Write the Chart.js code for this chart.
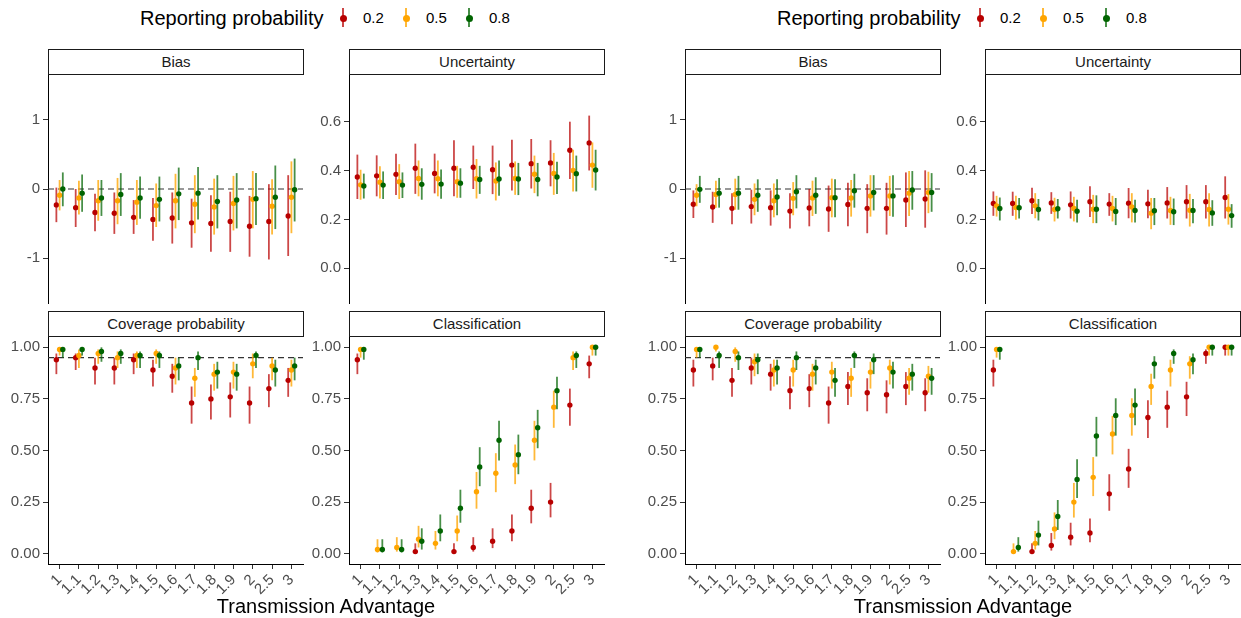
<!DOCTYPE html>
<html>
<head>
<meta charset="utf-8">
<script src="https://cdn.jsdelivr.net/npm/chart.js@4.4.1/dist/chart.umd.min.js"></script>
<style>
  body { margin: 0; background: #fff; overflow: hidden; font-family: "Liberation Sans", Arial, sans-serif; }
  #wrap { position: relative; width: 1241px; height: 618px; background: #fff; }
  canvas { position: absolute; }
  .strip { position: absolute; box-sizing: border-box; height: 26px; border: 1px solid #1a1a1a; background: #fff;
           font-size: 15px; line-height: 24px; text-align: center; color: #1a1a1a; }
  .txt { position: absolute; white-space: nowrap; color: #000; }
  .key { position: absolute; width: 2px; height: 19px; }
  .key i { position: absolute; left: -2.5px; top: 6.5px; width: 7px; height: 7px; border-radius: 50%; }
</style>
</head>
<body>
<div id="wrap"></div>
<script>
// Categories and legend levels
const categories = ['1', '1.1', '1.2', '1.3', '1.4', '1.5', '1.6', '1.7', '1.8', '1.9', '2', '2.5', '3'];
const reportingProb = ['0.2', '0.5', '0.8'];

// Y tick values
const biasTicks = [-1, 0, 1];
const uncertaintyTicks = [0, 0.2, 0.4, 0.6];
const probTicks = [0, 0.25, 0.5, 0.75, 1];

// ---- Left plot: Bias ----
const leftBias02   = [-0.23, -0.27, -0.34, -0.35, -0.41, -0.44, -0.42, -0.49, -0.50, -0.47, -0.54, -0.47, -0.39];
const leftBias02Lo = [-0.48, -0.55, -0.61, -0.65, -0.65, -0.75, -0.79, -0.85, -0.91, -0.91, -0.98, -1.02, -0.97];
const leftBias02Hi = [0.02, 0.00, -0.07, -0.05, -0.16, -0.13, -0.05, -0.14, -0.09, -0.04, -0.10, 0.07, 0.20];
const leftBias05   = [-0.09, -0.13, -0.17, -0.17, -0.19, -0.24, -0.17, -0.22, -0.26, -0.21, -0.15, -0.25, -0.12];
const leftBias05Lo = [-0.31, -0.37, -0.46, -0.51, -0.52, -0.55, -0.57, -0.64, -0.66, -0.60, -0.57, -0.66, -0.64];
const leftBias05Hi = [0.13, 0.12, 0.13, 0.16, 0.13, 0.08, 0.22, 0.20, 0.15, 0.19, 0.26, 0.14, 0.40];
const leftBias08   = [0.00, -0.06, -0.13, -0.08, -0.13, -0.15, -0.07, -0.06, -0.18, -0.16, -0.14, -0.12, -0.01];
const leftBias08Lo = [-0.25, -0.33, -0.39, -0.39, -0.43, -0.47, -0.45, -0.44, -0.57, -0.57, -0.52, -0.58, -0.47];
const leftBias08Hi = [0.24, 0.21, 0.13, 0.23, 0.18, 0.18, 0.31, 0.32, 0.20, 0.23, 0.23, 0.34, 0.44];

// ---- Left plot: Uncertainty ----
const leftUnc02   = [0.374, 0.379, 0.385, 0.410, 0.389, 0.410, 0.414, 0.404, 0.423, 0.429, 0.432, 0.484, 0.514];
const leftUnc02Lo = [0.284, 0.295, 0.300, 0.305, 0.307, 0.295, 0.325, 0.304, 0.319, 0.327, 0.336, 0.366, 0.401];
const leftUnc02Hi = [0.466, 0.463, 0.470, 0.511, 0.470, 0.525, 0.503, 0.503, 0.527, 0.530, 0.525, 0.601, 0.626];
const leftUnc05   = [0.342, 0.353, 0.355, 0.368, 0.367, 0.355, 0.367, 0.358, 0.368, 0.386, 0.389, 0.401, 0.423];
const leftUnc05Lo = [0.281, 0.286, 0.284, 0.295, 0.295, 0.289, 0.286, 0.278, 0.301, 0.308, 0.301, 0.315, 0.330];
const leftUnc05Hi = [0.404, 0.418, 0.427, 0.442, 0.442, 0.420, 0.448, 0.434, 0.438, 0.462, 0.473, 0.486, 0.516];
const leftUnc08   = [0.337, 0.341, 0.341, 0.344, 0.345, 0.349, 0.364, 0.366, 0.366, 0.364, 0.374, 0.388, 0.403];
const leftUnc08Lo = [0.286, 0.284, 0.288, 0.281, 0.285, 0.289, 0.305, 0.297, 0.300, 0.295, 0.305, 0.315, 0.319];
const leftUnc08Hi = [0.388, 0.397, 0.393, 0.410, 0.405, 0.410, 0.420, 0.442, 0.432, 0.432, 0.437, 0.462, 0.486];

// ---- Left plot: Coverage probability ----
const leftCov02   = [0.94, 0.95, 0.90, 0.90, 0.94, 0.89, 0.86, 0.73, 0.75, 0.76, 0.73, 0.80, 0.84];
const leftCov02Lo = [0.87, 0.89, 0.82, 0.82, 0.87, 0.81, 0.78, 0.63, 0.65, 0.66, 0.63, 0.71, 0.76];
const leftCov02Hi = [0.97, 0.97, 0.95, 0.95, 0.97, 0.94, 0.92, 0.81, 0.82, 0.83, 0.81, 0.87, 0.90];
const leftCov05   = [0.99, 0.96, 0.97, 0.95, 0.96, 0.97, 0.90, 0.85, 0.87, 0.88, 0.92, 0.91, 0.89];
const leftCov05Lo = [0.96, 0.90, 0.92, 0.90, 0.90, 0.92, 0.82, 0.76, 0.79, 0.80, 0.85, 0.84, 0.81];
const leftCov05Hi = [1.00, 0.99, 0.99, 0.98, 0.98, 0.99, 0.95, 0.90, 0.92, 0.93, 0.97, 0.95, 0.94];
const leftCov08   = [0.99, 0.99, 0.98, 0.97, 0.96, 0.96, 0.91, 0.95, 0.88, 0.87, 0.96, 0.89, 0.91];
const leftCov08Lo = [0.95, 0.96, 0.93, 0.92, 0.90, 0.90, 0.84, 0.89, 0.80, 0.79, 0.90, 0.81, 0.84];
const leftCov08Hi = [1.00, 1.00, 1.00, 0.99, 0.98, 0.98, 0.95, 0.98, 0.93, 0.92, 0.98, 0.94, 0.95];

// ---- Left plot: Classification ----
const leftCls02   = [0.94, null, null, 0.01, null, 0.01, 0.03, 0.06, 0.11, 0.22, 0.25, 0.72, 0.92];
const leftCls02Lo = [0.87, null, null, 0.00, null, 0.00, 0.01, 0.027, 0.06, 0.147, 0.176, 0.62, 0.85];
const leftCls02Hi = [0.97, null, null, 0.05, null, 0.05, 0.08, 0.123, 0.19, 0.31, 0.343, 0.80, 0.96];
const leftCls05   = [0.99, 0.02, 0.03, 0.07, 0.05, 0.11, 0.30, 0.39, 0.43, 0.55, 0.71, 0.95, 1.00];
const leftCls05Lo = [0.95, 0.006, 0.01, 0.03, 0.02, 0.06, 0.218, 0.298, 0.337, 0.452, 0.61, 0.89, 0.96];
const leftCls05Hi = [1.00, 0.07, 0.08, 0.135, 0.11, 0.185, 0.396, 0.487, 0.529, 0.644, 0.79, 0.98, 1.00];
const leftCls08   = [0.99, 0.02, 0.02, 0.06, 0.11, 0.22, 0.42, 0.55, 0.48, 0.61, 0.79, 0.96, 1.00];
const leftCls08Lo = [0.94, 0.006, 0.006, 0.02, 0.06, 0.15, 0.327, 0.452, 0.385, 0.511, 0.70, 0.90, 0.96];
const leftCls08Hi = [1.00, 0.07, 0.07, 0.123, 0.19, 0.31, 0.516, 0.644, 0.577, 0.697, 0.857, 0.98, 1.00];

// ---- Right plot: Bias ----
const rightBias02   = [-0.22, -0.26, -0.28, -0.255, -0.27, -0.32, -0.275, -0.29, -0.225, -0.28, -0.28, -0.16, -0.145];
const rightBias02Lo = [-0.42, -0.49, -0.51, -0.50, -0.53, -0.57, -0.54, -0.62, -0.54, -0.64, -0.66, -0.55, -0.56];
const rightBias02Hi = [-0.02, -0.04, -0.06, -0.01, -0.02, -0.06, 0.00, 0.05, 0.09, 0.07, 0.09, 0.24, 0.27];
const rightBias05   = [-0.09, -0.08, -0.08, -0.15, -0.17, -0.135, -0.13, -0.125, -0.13, -0.10, -0.10, -0.06, -0.05];
const rightBias05Lo = [-0.25, -0.27, -0.30, -0.38, -0.41, -0.38, -0.39, -0.41, -0.40, -0.40, -0.39, -0.39, -0.35];
const rightBias05Hi = [0.07, 0.12, 0.15, 0.08, 0.08, 0.10, 0.12, 0.15, 0.13, 0.20, 0.19, 0.26, 0.25];
const rightBias08   = [-0.005, -0.06, -0.06, -0.09, -0.115, -0.04, -0.09, -0.125, -0.025, -0.05, -0.10, -0.015, -0.05];
const rightBias08Lo = [-0.20, -0.27, -0.30, -0.33, -0.38, -0.28, -0.36, -0.41, -0.27, -0.31, -0.40, -0.30, -0.33];
const rightBias08Hi = [0.19, 0.16, 0.19, 0.14, 0.14, 0.20, 0.17, 0.14, 0.22, 0.20, 0.20, 0.26, 0.23];

// ---- Right plot: Uncertainty ----
const rightUnc02   = [0.266, 0.266, 0.277, 0.268, 0.260, 0.273, 0.263, 0.267, 0.264, 0.268, 0.273, 0.273, 0.290];
const rightUnc02Lo = [0.215, 0.215, 0.222, 0.223, 0.204, 0.210, 0.215, 0.205, 0.205, 0.204, 0.204, 0.204, 0.204];
const rightUnc02Hi = [0.315, 0.314, 0.330, 0.312, 0.315, 0.336, 0.308, 0.329, 0.322, 0.333, 0.341, 0.341, 0.377];
const rightUnc05   = [0.256, 0.249, 0.256, 0.241, 0.245, 0.242, 0.245, 0.251, 0.226, 0.237, 0.238, 0.241, 0.242];
const rightUnc05Lo = [0.212, 0.199, 0.205, 0.192, 0.192, 0.185, 0.192, 0.188, 0.160, 0.178, 0.171, 0.171, 0.179];
const rightUnc05Hi = [0.297, 0.297, 0.308, 0.289, 0.293, 0.301, 0.297, 0.308, 0.288, 0.293, 0.305, 0.308, 0.304];
const rightUnc08   = [0.245, 0.248, 0.241, 0.244, 0.234, 0.242, 0.233, 0.237, 0.236, 0.232, 0.237, 0.227, 0.216];
const rightUnc08Lo = [0.196, 0.204, 0.196, 0.204, 0.188, 0.185, 0.177, 0.188, 0.177, 0.177, 0.185, 0.174, 0.166];
const rightUnc08Hi = [0.290, 0.288, 0.284, 0.284, 0.281, 0.299, 0.288, 0.281, 0.288, 0.286, 0.284, 0.279, 0.263];

// ---- Right plot: Coverage probability ----
const rightCov02   = [0.89, 0.91, 0.84, 0.90, 0.87, 0.79, 0.80, 0.73, 0.81, 0.78, 0.77, 0.81, 0.78];
const rightCov02Lo = [0.81, 0.84, 0.76, 0.82, 0.79, 0.70, 0.71, 0.63, 0.72, 0.69, 0.68, 0.72, 0.69];
const rightCov02Hi = [0.94, 0.95, 0.90, 0.95, 0.92, 0.86, 0.87, 0.81, 0.88, 0.85, 0.84, 0.88, 0.85];
const rightCov05   = [0.99, 1.00, 0.98, 0.93, 0.89, 0.89, 0.87, 0.88, 0.85, 0.88, 0.90, 0.85, 0.86];
const rightCov05Lo = [0.95, 0.98, 0.93, 0.86, 0.81, 0.81, 0.79, 0.80, 0.76, 0.80, 0.82, 0.77, 0.78];
const rightCov05Hi = [1.00, 1.00, 1.00, 0.97, 0.94, 0.94, 0.92, 0.93, 0.90, 0.93, 0.94, 0.90, 0.91];
const rightCov08   = [0.99, 0.96, 0.95, 0.94, 0.90, 0.95, 0.90, 0.84, 0.96, 0.94, 0.88, 0.87, 0.85];
const rightCov08Lo = [0.95, 0.90, 0.89, 0.87, 0.82, 0.89, 0.82, 0.76, 0.90, 0.87, 0.80, 0.79, 0.77];
const rightCov08Hi = [1.00, 0.98, 0.98, 0.97, 0.94, 0.98, 0.94, 0.90, 0.98, 0.97, 0.93, 0.92, 0.90];

// ---- Right plot: Classification ----
const rightCls02   = [0.89, null, 0.01, 0.04, 0.08, 0.10, 0.29, 0.41, 0.66, 0.71, 0.76, 0.97, 1.00];
const rightCls02Lo = [0.81, null, 0.00, 0.015, 0.04, 0.055, 0.208, 0.319, 0.561, 0.61, 0.667, 0.92, 0.96];
const rightCls02Hi = [0.94, null, 0.05, 0.10, 0.15, 0.17, 0.385, 0.508, 0.744, 0.79, 0.833, 0.99, 1.00];
const rightCls05   = [0.99, 0.01, 0.05, 0.12, 0.25, 0.37, 0.58, 0.67, 0.81, 0.89, 0.92, 1.00, 1.00];
const rightCls05Lo = [0.95, 0.00, 0.02, 0.07, 0.175, 0.279, 0.481, 0.572, 0.721, 0.81, 0.848, 0.96, 0.96];
const rightCls05Hi = [1.00, 0.05, 0.11, 0.20, 0.343, 0.468, 0.668, 0.753, 0.872, 0.94, 0.957, 1.00, 1.00];
const rightCls08   = [0.99, 0.03, 0.09, 0.18, 0.36, 0.57, 0.67, 0.72, 0.92, 0.97, 0.94, 1.00, 1.00];
const rightCls08Lo = [0.94, 0.01, 0.04, 0.115, 0.27, 0.471, 0.572, 0.622, 0.848, 0.92, 0.87, 0.96, 0.96];
const rightCls08Hi = [1.00, 0.08, 0.16, 0.26, 0.458, 0.663, 0.753, 0.80, 0.957, 0.99, 0.97, 1.00, 1.00];

// Styles
const pointColors = ['#b80000', '#ffa500', '#006400'];
const barColors = ['rgba(184,0,0,0.72)', 'rgba(255,165,0,0.78)', 'rgba(0,100,0,0.72)'];
const fontFamily = '"Liberation Sans", Arial, sans-serif';
const dodgeWidth = 0.5;
const yAxisW = 46, padT = 14, padR = 6, xAxisH = 42;

Chart.defaults.font.family = fontFamily;

// Panel layout (plot area in page pixels)
const panels = [
    { strip: 'Bias', L: 48, R: 303, T: 75, B: 303, min: -1.65, max: 1.65, ticks: biasTicks, dec: 0, ref: 0, xAxis: false,
      mid: [leftBias02, leftBias05, leftBias08], lo: [leftBias02Lo, leftBias05Lo, leftBias08Lo], hi: [leftBias02Hi, leftBias05Hi, leftBias08Hi] },
    { strip: 'Uncertainty', L: 349, R: 604, T: 75, B: 303, min: -0.1425, max: 0.7925, ticks: uncertaintyTicks, dec: 1, ref: null, xAxis: false,
      mid: [leftUnc02, leftUnc05, leftUnc08], lo: [leftUnc02Lo, leftUnc05Lo, leftUnc08Lo], hi: [leftUnc02Hi, leftUnc05Hi, leftUnc08Hi] },
    { strip: 'Coverage probability', L: 48, R: 303, T: 337, B: 564, min: -0.05, max: 1.05, ticks: probTicks, dec: 2, ref: 0.95, xAxis: true,
      mid: [leftCov02, leftCov05, leftCov08], lo: [leftCov02Lo, leftCov05Lo, leftCov08Lo], hi: [leftCov02Hi, leftCov05Hi, leftCov08Hi] },
    { strip: 'Classification', L: 349, R: 604, T: 337, B: 564, min: -0.05, max: 1.05, ticks: probTicks, dec: 2, ref: null, xAxis: true,
      mid: [leftCls02, leftCls05, leftCls08], lo: [leftCls02Lo, leftCls05Lo, leftCls08Lo], hi: [leftCls02Hi, leftCls05Hi, leftCls08Hi] },
    { strip: 'Bias', L: 685, R: 940, T: 75, B: 303, min: -1.65, max: 1.65, ticks: biasTicks, dec: 0, ref: 0, xAxis: false,
      mid: [rightBias02, rightBias05, rightBias08], lo: [rightBias02Lo, rightBias05Lo, rightBias08Lo], hi: [rightBias02Hi, rightBias05Hi, rightBias08Hi] },
    { strip: 'Uncertainty', L: 985, R: 1240, T: 75, B: 303, min: -0.1425, max: 0.7925, ticks: uncertaintyTicks, dec: 1, ref: null, xAxis: false,
      mid: [rightUnc02, rightUnc05, rightUnc08], lo: [rightUnc02Lo, rightUnc05Lo, rightUnc08Lo], hi: [rightUnc02Hi, rightUnc05Hi, rightUnc08Hi] },
    { strip: 'Coverage probability', L: 685, R: 940, T: 337, B: 564, min: -0.05, max: 1.05, ticks: probTicks, dec: 2, ref: 0.95, xAxis: true,
      mid: [rightCov02, rightCov05, rightCov08], lo: [rightCov02Lo, rightCov05Lo, rightCov08Lo], hi: [rightCov02Hi, rightCov05Hi, rightCov08Hi] },
    { strip: 'Classification', L: 985, R: 1240, T: 337, B: 564, min: -0.05, max: 1.05, ticks: probTicks, dec: 2, ref: null, xAxis: true,
      mid: [rightCls02, rightCls05, rightCls08], lo: [rightCls02Lo, rightCls05Lo, rightCls08Lo], hi: [rightCls02Hi, rightCls05Hi, rightCls08Hi] }
];

const wrap = document.getElementById('wrap');

// Draw the interval line of each point just before its dataset's points
const errorBars = {
    id: 'errorBars',
    beforeDatasetDraw(chart, args) {
        const ds = chart.data.datasets[args.index];
        if (!ds.barColor) return;
        const { ctx, chartArea, scales: { x, y } } = chart;
        ctx.save();
        ctx.beginPath();
        ctx.rect(chartArea.left, chartArea.top, chartArea.width, chartArea.height);
        ctx.clip();
        ctx.strokeStyle = ds.barColor;
        ctx.lineWidth = 1.8;
        ds.data.forEach(p => {
            const px = x.getPixelForValue(p.x);
            ctx.beginPath();
            ctx.moveTo(px, y.getPixelForValue(p.lo));
            ctx.lineTo(px, y.getPixelForValue(p.hi));
            ctx.stroke();
        });
        ctx.restore();
    }
};

// position_dodge: groups present at a category share the dodge width
function dodgeOffsets(series) {
    const out = series.map(() => []);
    categories.forEach((c, i) => {
        const present = [];
        series.forEach((s, k) => { if (s[i] != null) present.push(k); });
        present.forEach((k, j) => {
            out[k][i] = (j - (present.length - 1) / 2) * (dodgeWidth / present.length);
        });
    });
    return out;
}

function makePanel(p) {
    const canvas = document.createElement('canvas');
    const padB = p.xAxis ? 8 : padT;
    const w = p.R - p.L + yAxisW + padR;
    const h = p.B - p.T + padT + (p.xAxis ? xAxisH + padB : padB);
    canvas.width = w;
    canvas.height = h;
    canvas.style.left = (p.L - yAxisW) + 'px';
    canvas.style.top = (p.T - padT) + 'px';
    wrap.appendChild(canvas);

    const offs = dodgeOffsets(p.mid);
    const datasets = p.mid.map((vals, k) => {
        const pts = [];
        vals.forEach((v, i) => {
            if (v != null) pts.push({ x: i + offs[k][i], y: v, lo: p.lo[k][i], hi: p.hi[k][i] });
        });
        return {
            type: 'scatter',
            label: reportingProb[k],
            data: pts,
            backgroundColor: pointColors[k],
            borderColor: pointColors[k],
            pointRadius: 2.7,
            pointBorderWidth: 0,
            barColor: barColors[k],
            order: 3 - k
        };
    });
    if (p.ref != null) {
        datasets.push({
            type: 'line',
            data: [{ x: -0.6, y: p.ref }, { x: 12.6, y: p.ref }],
            borderColor: '#333',
            borderWidth: 1.2,
            borderDash: [6, 4],
            pointRadius: 0,
            order: 10
        });
    }

    const tickFont = { size: 15, family: fontFamily };
    new Chart(canvas, {
        type: 'scatter',
        data: { datasets },
        options: {
            responsive: false,
            animation: false,
            devicePixelRatio: 1,
            layout: { padding: { left: 0, top: padT, right: padR, bottom: padB } },
            plugins: { legend: { display: false }, tooltip: { enabled: false } },
            scales: {
                x: {
                    type: 'linear',
                    min: -0.6,
                    max: 12.6,
                    display: p.xAxis,
                    afterBuildTicks: s => { s.ticks = categories.map((c, i) => ({ value: i })); },
                    afterFit: s => { if (p.xAxis) s.height = xAxisH; },
                    ticks: {
                        callback: v => categories[v],
                        minRotation: 45,
                        maxRotation: 45,
                        autoSkip: false,
                        padding: 2,
                        color: '#4d4d4d',
                        font: tickFont
                    },
                    grid: { drawOnChartArea: false, drawTicks: true, tickLength: 5, color: '#333' },
                    border: { display: true, color: '#000', width: 1 }
                },
                y: {
                    type: 'linear',
                    min: p.min,
                    max: p.max,
                    afterBuildTicks: s => { s.ticks = p.ticks.map(v => ({ value: v })); },
                    afterFit: s => { s.width = yAxisW; },
                    ticks: {
                        callback: v => Number(v).toFixed(p.dec),
                        padding: 3,
                        color: '#4d4d4d',
                        font: tickFont
                    },
                    grid: { drawOnChartArea: false, drawTicks: true, tickLength: 5, color: '#333' },
                    border: { display: true, color: '#000', width: 1 }
                }
            }
        },
        plugins: [errorBars]
    });

    const strip = document.createElement('div');
    strip.className = 'strip';
    strip.style.left = p.L + 'px';
    strip.style.width = (p.R - p.L + 1) + 'px';
    strip.style.top = (p.T - 26) + 'px';
    strip.textContent = p.strip;
    wrap.appendChild(strip);
}

function addText(text, left, top, size, extra) {
    const d = document.createElement('div');
    d.className = 'txt';
    d.style.left = left + 'px';
    d.style.top = top + 'px';
    d.style.fontSize = size + 'px';
    d.style.lineHeight = '24px';
    if (extra) Object.assign(d.style, extra);
    d.textContent = text;
    wrap.appendChild(d);
}

// Legend and axis title for each of the two plots
function addLegend(dx) {
    addText('Reporting probability', 140 + dx, 6, 20);
    const keyX = [342, 405, 468];
    const labelX = [363, 426, 489];
    reportingProb.forEach((lab, k) => {
        const key = document.createElement('div');
        key.className = 'key';
        key.style.left = (keyX[k] + dx) + 'px';
        key.style.top = '8px';
        key.style.background = barColors[k];
        const dot = document.createElement('i');
        dot.style.background = pointColors[k];
        key.appendChild(dot);
        wrap.appendChild(key);
        addText(lab, labelX[k] + dx, 6, 15);
    });
    addText('Transmission Advantage', 176 + dx, 594, 20, { width: '300px', textAlign: 'center' });
}

panels.forEach(makePanel);
addLegend(0);
addLegend(637);
</script>
</body>
</html>
